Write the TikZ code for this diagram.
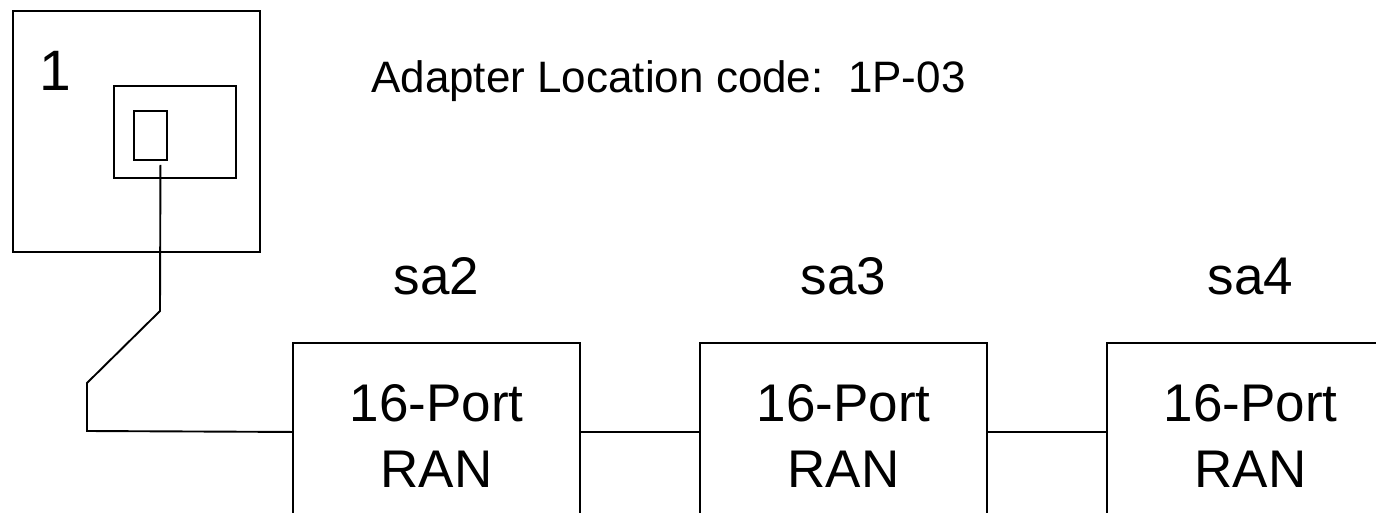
\documentclass[tikz,border=0pt]{standalone}
\usepackage{fontspec}
\setmainfont{Liberation Sans}
\usetikzlibrary{positioning}
\tikzset{
  wire/.style={draw, line width=1.9pt},
  plainbox/.style={draw, line width=1.9pt, anchor=north west, inner sep=0pt},
  ranbox/.style={draw, line width=1.9pt, anchor=north, minimum width=287pt, minimum height=186pt, align=center, font=\fontsize{53}{66}\selectfont},
  biglabel/.style={font=\fontsize{53}{60}\selectfont, inner sep=0pt},
}

\begin{document}
\begin{tikzpicture}[x=1pt, y=-1pt]
\clip (0,0) rectangle (1376,512);
% drawer with the adapter card and its port
\node[plainbox, minimum width=247pt, minimum height=241pt] (drawer) at (12,10) {};
\node[plainbox, minimum width=122pt, minimum height=92pt] (adapter) at (113,85) {};
\node[plainbox, minimum width=33pt, minimum height=49pt] (port) at (133,110) {};
\node[biglabel, anchor=base west, font=\fontsize{57}{60}\selectfont] (drawnum) at (39,90) {1};
\node[anchor=base west, inner sep=0pt, font=\fontsize{44}{50}\selectfont] (loccode) at (371,92) {Adapter Location code:\ \ 1P-03};
%
% RAN boxes
\node[ranbox] (sa2) at (436.5,342) {16-Port\\RAN};
\node[ranbox] (sa3) at (843.5,342) {16-Port\\RAN};
\node[ranbox] (sa4) at (1250.5,342) {16-Port\\RAN};
\node[biglabel, anchor=base] (lbl2) at ([yshift=48pt]sa2.north) {sa2};
\node[biglabel, anchor=base] (lbl3) at ([yshift=48pt]sa3.north) {sa3};
\node[biglabel, anchor=base] (lbl4) at ([yshift=48pt]sa4.north) {sa4};
%
% cabling
\draw[wire] ([xshift=10pt,yshift=-4pt]port.south) -- (160,311) -- (87,383) -- (87,431) -- ([yshift=4pt]sa2.west);
\draw[wire] ([yshift=4pt]sa2.east) -- ([yshift=4pt]sa3.west);
\draw[wire] ([yshift=4pt]sa3.east) -- ([yshift=4pt]sa4.west);
\end{tikzpicture}
\end{document}
